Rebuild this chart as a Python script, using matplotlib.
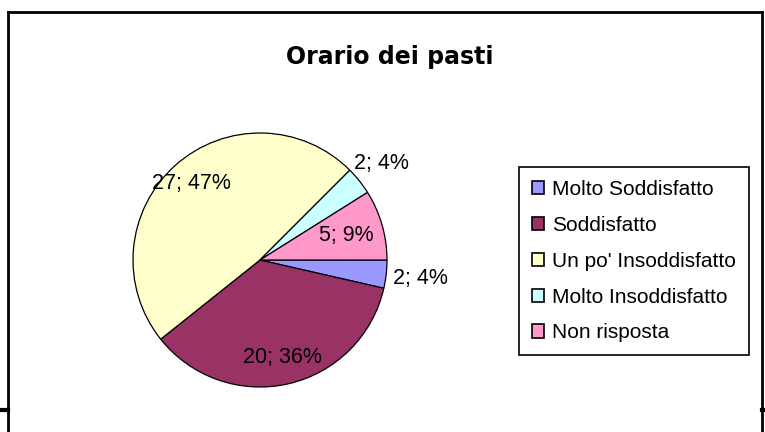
import matplotlib.pyplot as plt
from matplotlib.lines import Line2D
from matplotlib.patches import Patch
import numpy as np

# dati
categorie = ['Molto Soddisfatto', 'Soddisfatto', "Un po' Insoddisfatto",
             'Molto Insoddisfatto', 'Non risposta']
valori = [2, 20, 27, 2, 5]
percentuali = [4, 36, 47, 4, 9]  # come stampate da Excel
colori = ['#9999FF', '#993366', '#FFFFCC', '#CCFFFF', '#FF99CC']

# distanza delle etichette dal centro (in raggi)
dist_etichette = [1.27, 0.79, 0.81, 1.22, 0.71]

W, H = 765, 432
fig = plt.figure(figsize=(W / 100, H / 100), dpi=100)
fig.patch.set_facecolor('white')

# bordo del grafico
def linea(x0, y0, x1, y1, lw=2):
    fig.add_artist(Line2D([x0 / W, x1 / W], [1 - y0 / H, 1 - y1 / H],
                          transform=fig.transFigure, color='black', lw=lw))

linea(8, 12, 762, 12)
linea(8, 12, 8, 432)
linea(762, 12, 762, 432)
linea(0, 410, 8, 410, lw=3)
linea(762, 410, 765, 410, lw=3)

fig.text(390 / W, 1 - 64 / H, 'Orario dei pasti', ha='center', va='baseline',
         fontsize=17, fontweight='bold', family='DejaVu Sans')

cx, cy, r = 260, 260, 127
ax = fig.add_axes([(cx - r) / W, (H - cy - r) / H, 2 * r / W, 2 * r / H])
wedges, _ = ax.pie(valori, colors=colori, startangle=0, counterclock=False,
                   wedgeprops=dict(edgecolor='black', linewidth=0.9))
ax.set_xlim(-1, 1)
ax.set_ylim(-1, 1)
ax.set_aspect('equal')
ax.axis('off')

for w, v, p, d in zip(wedges, valori, percentuali, dist_etichette):
    ang = np.deg2rad((w.theta1 + w.theta2) / 2)
    ax.text(d * np.cos(ang), d * np.sin(ang), f'{v}; {p}%', ha='center',
            va='center', fontsize=15.5, family='Liberation Sans')

handles = [Patch(facecolor=c, edgecolor='black', linewidth=1.2) for c in colori]
leg = fig.legend(handles, categorie, loc='upper left',
                 bbox_to_anchor=(519 / W, 1 - 167 / H),
                 prop={'family': 'Liberation Sans', 'size': 15},
                 fancybox=False, edgecolor='black', framealpha=1,
                 handlelength=0.6, handleheight=0.6, handletextpad=0.35,
                 labelspacing=0.81, borderpad=0.62, borderaxespad=0)
leg.get_frame().set_linewidth(1.2)

plt.savefig('out.png', dpi=100)
